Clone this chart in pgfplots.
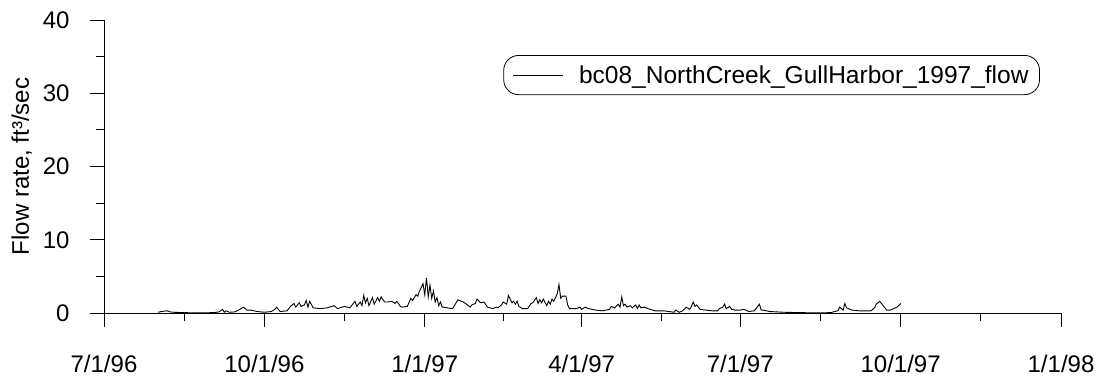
\documentclass[border=0pt]{standalone}
\usepackage{fontspec}
\setmainfont{Liberation Sans}
\usepackage{pgfplots}
\pgfplotsset{compat=1.18}

\begin{document}
\begin{tikzpicture}[x=1pt,y=1pt]
\useasboundingbox (0,0) rectangle (1102,377);
\begin{axis}[
  at={(104pt,64pt)}, anchor=south west,
  scale only axis, width=957pt, height=293pt,
  xmin=0, xmax=549, ymin=0, ymax=40,
  axis x line*=bottom, axis y line*=left,
  axis line style={black, line width=0.9pt},
  every tick/.style={black, line width=0.9pt},
  tick align=outside,
  major tick length=14pt, minor tick length=8pt,
  xtick={0,92,184,274,365,457,549},
  xticklabels={7/1/96,10/1/96,1/1/97,4/1/97,7/1/97,10/1/97,1/1/98},
  minor xtick={46,138,229,320,411,503},
  ytick={0,10,20,30,40},
  minor ytick={5,15,25,35},
  /pgf/number format/assume math mode=true,
  tick label style={font=\fontsize{24}{28}\selectfont, black},
  xticklabel style={yshift=-25pt},
  yticklabel style={xshift=-17pt},
  ylabel={Flow rate, ft³/sec},
  every axis y label/.style={at={(axis description cs:-0.086,0.5)}, rotate=90,
    anchor=center, font=\fontsize{24}{28}\selectfont},
  legend style={at={(0.978,0.8805)}, anchor=north east, draw=black, line width=0.8pt,
    rounded corners=15pt, font=\fontsize{24.5}{28}\selectfont,
    inner xsep=9pt, inner ysep=8pt},
  legend image code/.code={%
    \draw[#1, line width=0.8pt, sharp corners] (0pt,0pt) -- (50pt,0pt);
    \path[draw=none, fill=none] (0pt,-1pt) rectangle (64pt,1pt);},
  legend cell align=left,
  clip=false,
]
\addplot[black, line width=0.9pt] coordinates {
(31,0.1) (33,0.2) (36,0.3) (38,0.15) (40,0.1) (45,0.05) (55,0.02) (63,0.05)
(66,0.15) (68,0.5) (69,0.1) (70,0.3) (72,0.1) (75,0.15) (78,0.5) (80,0.8)
(82,0.4) (84,0.4) (88,0.2) (92,0.1) (96,0.2) (98,0.5) (99,0.8) (101,0.2)
(105,0.3) (107,0.9) (109,1.3) (110,0.8) (112,1.4) (113,0.9) (115,1.1) (116,1.7)
(117,0.8) (118,1.6) (120,0.7) (124,0.6) (128,0.7) (132,1.0) (134,0.6) (138,0.9)
(141,0.7) (142,1.0) (144,1.6) (145,0.9) (147,1.5) (148,1.0) (149,2.4) (150,1.4)
(151,2.0) (152,1.0) (154,2.1) (155,1.2) (157,2.1) (158,1.6) (159,2.2) (161,1.5)
(163,1.5) (165,1.6) (167,1.3) (168,1.6) (170,0.9) (171,0.8) (174,0.9) (176,2.0)
(177,1.7) (179,2.5) (180,2.3) (181,3.0) (182,3.5) (183,4.0) (184,2.5) (185,4.8)
(186,2.2) (187,3.8) (188,2.0) (189,3.0) (190,1.5) (191,2.1) (192,1.0) (193,1.5)
(194,0.8) (195,0.8) (197,0.7) (200,0.6) (203,1.8) (206,1.5) (208,1.2) (210,0.8)
(211,1.1) (213,1.3) (214,1.9) (216,1.4) (218,1.5) (220,0.8) (223,0.6) (225,0.8)
(226,0.7) (228,1.1) (229,1.5) (231,1.2) (232,2.4) (234,1.4) (235,1.6) (236,1.2)
(237,1.6) (238,0.9) (240,0.6) (243,0.6) (245,1.3) (246,1.4) (248,2.1) (249,1.3)
(250,1.8) (251,1.4) (252,1.9) (254,1.0) (255,1.6) (256,1.2) (257,1.9) (258,1.6)
(260,2.6) (261,3.9) (262,2.0) (263,2.3) (265,2.3) (266,1.1) (267,0.6) (271,0.6)
(273,0.8) (274,0.5) (276,0.8) (278,0.6) (282,0.4) (286,0.3) (290,0.5) (291,0.9)
(293,0.7) (295,1.2) (296,0.8) (297,2.2) (298,1.0) (299,1.2) (300,0.8) (302,1.0)
(303,0.7) (305,1.1) (306,0.6) (307,1.1) (308,0.7) (310,0.8) (312,0.6) (316,0.3)
(321,0.3) (327,0.1) (328,0.4) (330,0.1) (332,0.3) (334,0.8) (336,0.5) (337,0.9)
(338,1.5) (339,0.9) (340,1.1) (342,0.5) (345,0.4) (349,0.3) (352,0.3) (353,0.6)
(355,0.8) (356,1.2) (357,0.6) (359,0.9) (360,0.5) (362,0.4) (365,0.4) (367,0.5)
(370,0.2) (373,0.3) (374,0.6) (376,1.2) (377,0.4) (378,0.4) (382,0.2) (390,0.1)
(399,0.05) (410,0.02) (417,0.05) (419,0.2) (421,0.3) (422,0.8) (424,0.4) (425,1.3)
(426,0.7) (427,0.6) (429,0.4) (433,0.3) (440,0.3) (442,0.7) (443,1.2) (445,1.6)
(447,1.0) (449,0.4) (451,0.4) (453,0.6) (455,0.8) (457,1.3)
};
\addlegendentry{bc08\_NorthCreek\_GullHarbor\_1997\_flow}
\end{axis}
\end{tikzpicture}
\end{document}
